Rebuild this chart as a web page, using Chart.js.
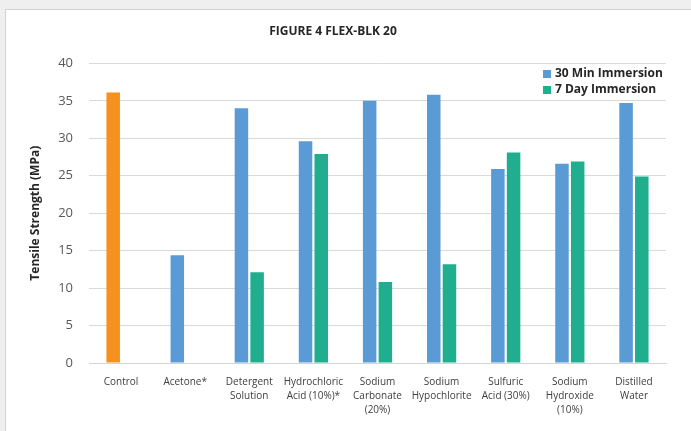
<!DOCTYPE html>
<html>
<head>
<meta charset="utf-8">
<script src="https://cdn.jsdelivr.net/npm/chart.js@4.4.0/dist/chart.umd.min.js"></script>
<style>
  html, body { margin: 0; padding: 0; overflow: hidden; background: #efefef; }
  #card { position: absolute; left: 5px; top: 9px; width: 720px; height: 460px; background: #fff; border: 1px solid #d2d2d2; }
  #myChart { position: absolute; left: 0; top: 0; }
</style>
</head>
<body>
<div id="card"></div>
<canvas id="myChart" width="691" height="431"></canvas>
<script>
// chart data
var categories = [
  ['Control'], ['Acetone*'], ['Detergent', 'Solution'], ['Hydrochloric', 'Acid (10%)*'],
  ['Sodium', 'Carbonate', '(20%)'], ['Sodium', 'Hypochlorite'], ['Sulfuric', 'Acid (30%)'],
  ['Sodium', 'Hydroxide', '(10%)'], ['Distilled', 'Water']
];
var seriesNames = ['30 Min Immersion', '7 Day Immersion'];
var min30 = [36.1, 14.4, 34.0, 29.6, 35.0, 35.8, 25.9, 26.6, 34.7];
var day7 = [null, null, 12.1, 27.9, 10.8, 13.2, 28.1, 26.9, 24.9];
var yTicks = [0, 5, 10, 15, 20, 25, 30, 35, 40];

var blue = '#5B9BD5';
var green = '#1FAF8E';
var orange = '#F6901E';

// control bar is orange, rest blue
var min30Colors = [];
for (var i = 0; i < categories.length; ++i) {
    min30Colors.push(i == 0 ? orange : blue);
}
var legendColors = [blue, green];

// legend sits inside the plot, top right
var legendBox = {
  id: 'legendBox',
  afterDraw: function(chart) {
    var c = chart.ctx;
    c.save();
    c.font = 'bold 12px "Open Sans"';
    c.textBaseline = 'middle';
    c.textAlign = 'left';
    for (var i = 0; i < seriesNames.length; ++i) {
      var y = 74 + i * 16;
      c.fillStyle = legendColors[i];
      c.fillRect(543, y - 4, 8, 8);
      c.fillStyle = '#262626';
      c.fillText(seriesNames[i], 555, y);
    }
    c.restore();
  }
};

var ctx = document.getElementById('myChart').getContext('2d');
var chart = new Chart(ctx, {
    type: 'bar',
    data: {
        labels: categories,
        datasets: [{
            label: seriesNames[0],
            data: min30,
            backgroundColor: min30Colors,
            categoryPercentage: 0.49,
            barPercentage: 0.86
        }, {
            label: seriesNames[1],
            data: day7,
            backgroundColor: green,
            categoryPercentage: 0.49,
            barPercentage: 0.86
        }]
    },
    plugins: [legendBox],
    options: {
        responsive: false,
        animation: false,
        layout: { padding: { left: 0, right: 25, top: 0, bottom: 0 } },
        plugins: {
            legend: { display: false },
            tooltip: { enabled: false },
            title: {
                display: true,
                text: 'FIGURE 4 FLEX-BLK 20',
                color: '#262626',
                font: { family: 'Open Sans', size: 12, weight: 'bold' },
                padding: { top: 24, bottom: 25 }
            }
        },
        scales: {
            x: {
                grid: { display: false, drawTicks: false },
                border: { color: '#d4d4d4' },
                ticks: {
                    padding: 12,
                    color: '#404040',
                    maxRotation: 0,
                    autoSkip: false,
                    font: { family: 'Open Sans', size: 10, lineHeight: 1.4 }
                },
                afterFit: function(s) { s.height = 68; }
            },
            y: {
                min: 0,
                max: 40,
                afterBuildTicks: function(s) { s.ticks = yTicks.map(function(v) { return { value: v }; }); },
                grid: { color: '#d9d9d9', drawTicks: false },
                border: { display: false },
                ticks: {
                    padding: 16,
                    color: '#595959',
                    font: { family: 'Open Sans', size: 13 }
                },
                title: {
                    display: true,
                    text: 'Tensile Strength (MPa)',
                    color: '#262626',
                    font: { family: 'Open Sans', size: 12, weight: 'bold' },
                    padding: { top: 28 }
                },
                afterFit: function(s) { s.width = 89; }
            }
        }
    }
});
</script>
</body>
</html>
